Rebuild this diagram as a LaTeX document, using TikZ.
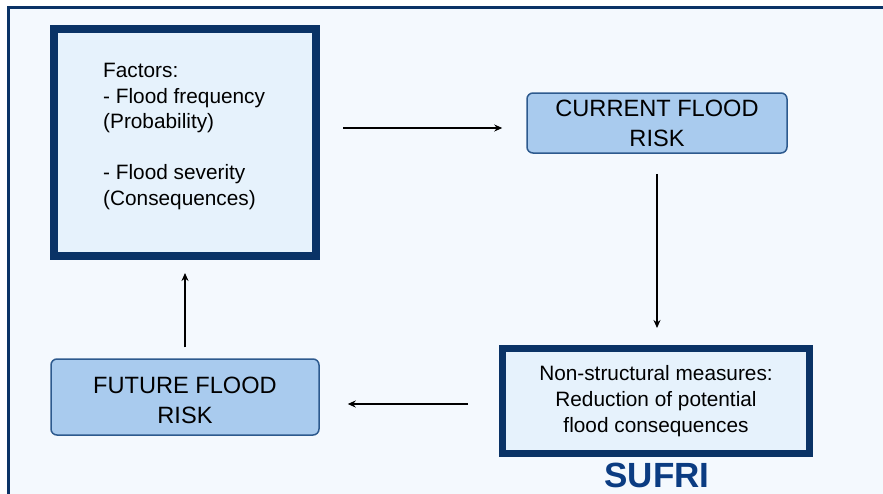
\documentclass[tikz,border=0pt]{standalone}
\usepackage{fontspec}
\setmainfont{Liberation Sans}
\usetikzlibrary{arrows.meta}
\definecolor{navy}{HTML}{0A3366}
\definecolor{bgblue}{HTML}{F4F9FE}
\definecolor{paleblue}{HTML}{E6F2FC}
\definecolor{midblue}{HTML}{A9CBEE}
\definecolor{edgeblue}{HTML}{2D5A8E}
\definecolor{sufriblue}{HTML}{0B3C82}
\tikzset{
  thickbox/.style={draw=navy, line width=8pt, fill=paleblue, inner sep=0pt},
  roundbox/.style={draw=edgeblue, line width=1.5pt, fill=midblue, rounded corners=6pt,
    align=center, inner sep=0pt, font=\fontsize{23.6}{30}\selectfont},
  bodytext/.style={align=left, inner sep=0pt, font=\fontsize{20.8}{25.6}\selectfont},
  arr/.style={line width=2.2pt, -{Stealth[length=8pt,width=7pt]}},
}
\begin{document}
\begin{tikzpicture}[x=1pt,y=-1pt]
\useasboundingbox (0,0) rectangle (883,493);
\begin{scope}
\clip (0,0) rectangle (883,493);
\draw[line width=3pt, draw=navy, fill=bgblue] (8.5,7.5) rectangle (920,530);
\end{scope}
% Factors box
\node[thickbox, minimum width=262pt, minimum height=227pt] (factors) at (185,142.5) {};
\node[bodytext, anchor=north west] (factorstext) at (103,63)
  {Factors:\\- Flood frequency\\(Probability)\\[25.6pt]- Flood severity\\(Consequences)};
% Current flood risk
\node[roundbox, minimum width=260pt, minimum height=60pt] (current) at (657,123) {CURRENT FLOOD\\RISK};
% Non-structural measures
\node[thickbox, line width=7pt, minimum width=307pt, minimum height=105pt, align=center,
  font=\fontsize{20.8}{26}\selectfont] (nonstruct) at (656,401)
  {Non-structural measures:\\Reduction of potential\\flood consequences};
% Future flood risk
\node[roundbox, minimum width=268pt, minimum height=76pt] (future) at (185,397) {};
\node[align=center, inner sep=0pt, font=\fontsize{23.6}{30}\selectfont] (futuretext) at ([yshift=-3pt]future.center) {FUTURE FLOOD\\RISK};
% SUFRI label
\node[anchor=base, inner sep=0pt, text=sufriblue, font=\fontsize{35}{40}\selectfont\bfseries] (sufri) at (657,487) {SUFRI};
% Arrows
\draw[arr, shorten <=23pt, shorten >=24pt] ([yshift=-5pt]current.west -| factors.east) -- ([yshift=-5pt]current.west);
\draw[arr, shorten <=20pt, shorten >=17pt] (current.south) -- (current.south |- nonstruct.north);
\draw[arr, shorten <=31pt, shorten >=28pt] ([yshift=-3pt]nonstruct.west) -- ([yshift=-3pt]nonstruct.west -| future.east);
\draw[arr, shorten <=11pt, shorten >=13pt] (future.north) -- (factors.south);
\end{tikzpicture}
\end{document}
